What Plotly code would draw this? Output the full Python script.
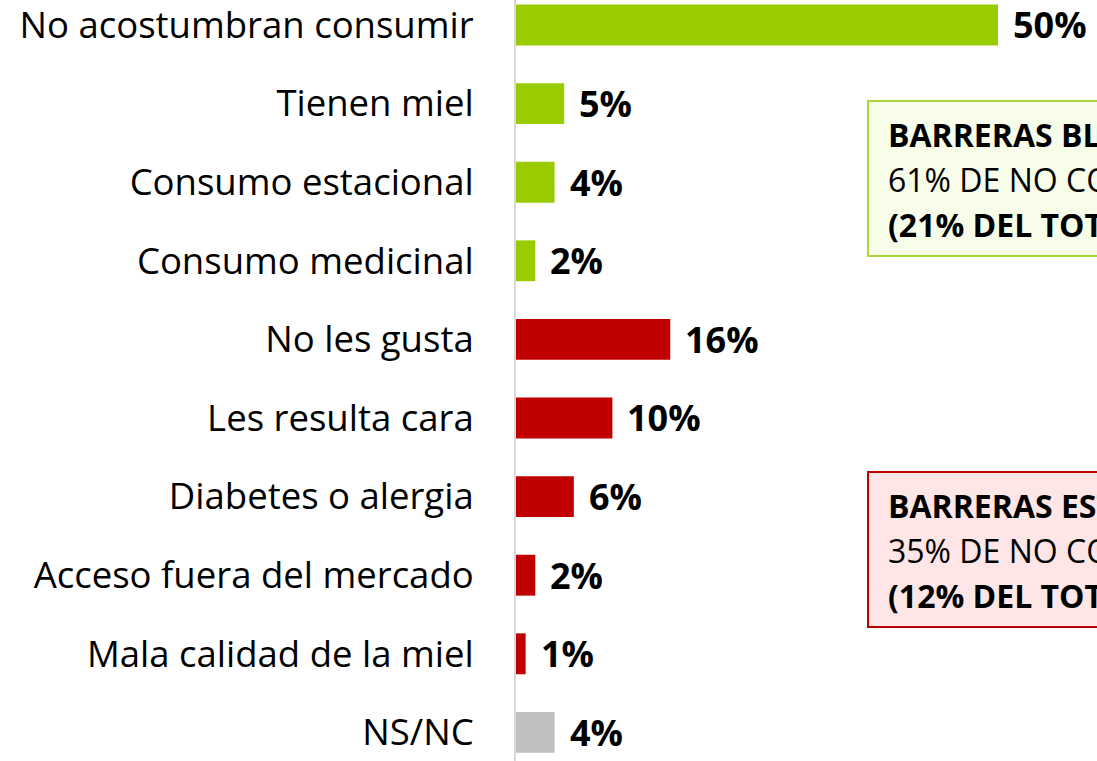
import plotly.graph_objects as go

categories = ["No acostumbran consumir", "Tienen miel", "Consumo estacional",
              "Consumo medicinal", "No les gusta", "Les resulta cara",
              "Diabetes o alergia", "Acceso fuera del mercado",
              "Mala calidad de la miel", "NS/NC"]
values = [50, 5, 4, 2, 16, 10, 6, 2, 1, 4]
groups = ["blanda"] * 4 + ["estructural"] * 5 + ["nsnc"]
group_colors = {"blanda": "#99CC00", "estructural": "#C00000", "nsnc": "#BFBFBF"}
value_labels = [f"{v}%" for v in values]

box_green_lines = ["<b>BARRERAS BLANDAS</b>", "61% DE NO CONSUMIDORES", "<b>(21% DEL TOTAL)</b>"]
box_red_lines = ["<b>BARRERAS ESTRUCTURALES</b>", "35% DE NO CONSUMIDORES", "<b>(12% DEL TOTAL)</b>"]

FONT = "'Open Sans', sans-serif"
W, H = 1097, 761
L = 516          # left edge of bars (px)
PX_PER_PCT = 9.64
ROW = 78.6

fig = go.Figure()
fig.add_trace(go.Bar(
    y=categories, x=values, orientation="h",
    marker=dict(color=[group_colors[g] for g in groups], line=dict(width=0)),
    width=0.52, hoverinfo="skip",
))

for cat, v, lab in zip(categories, values, value_labels):
    fig.add_annotation(x=v, y=cat, xref="x", yref="y", text=f"<b>{lab}</b>",
                       showarrow=False, xanchor="left", yanchor="middle",
                       xshift=13, font=dict(family=FONT, size=36, color="#000000"))

def py(p):
    return 1 - p / H

def pxx(p):
    return (p - L) / (W - L)

# boxes
fig.add_shape(type="rect", xref="paper", yref="paper",
              x0=pxx(868), x1=1.2, y0=py(256), y1=py(101),
              line=dict(color="#A6D63A", width=2), fillcolor="#F7FDE8", layer="above")
fig.add_shape(type="rect", xref="paper", yref="paper",
              x0=pxx(868), x1=1.2, y0=py(627), y1=py(472),
              line=dict(color="#C00000", width=2), fillcolor="#FEE6E6", layer="above")

for lines, centers in [(box_green_lines, [134, 179, 224]), (box_red_lines, [505, 550, 595])]:
    for txt, cy in zip(lines, centers):
        fig.add_annotation(x=pxx(886), y=py(cy), xref="paper", yref="paper",
                           text=txt, showarrow=False, xanchor="left", yanchor="middle",
                           font=dict(family=FONT, size=32, color="#000000"))

fig.update_layout(
    width=W, height=H,
    margin=dict(l=L, r=0, t=0, b=0),
    paper_bgcolor="white", plot_bgcolor="white",
    showlegend=False,
    xaxis=dict(range=[0, (W - L) / PX_PER_PCT], visible=False, fixedrange=True),
    yaxis=dict(autorange=False, range=[-0.318 + H / ROW, -0.318],
               categoryorder="array", categoryarray=categories,
               showline=True, linecolor="#D9D9D9", linewidth=2,
               showgrid=False, zeroline=False, ticks="",
               ticklabelstandoff=33, fixedrange=True,
               tickfont=dict(family=FONT, size=36.5, color="#000000")),
)

fig.write_html("out.html", config={"displayModeBar": False, "staticPlot": True},
               post_script="document.body.style.margin='0';document.body.style.overflow='hidden';")
